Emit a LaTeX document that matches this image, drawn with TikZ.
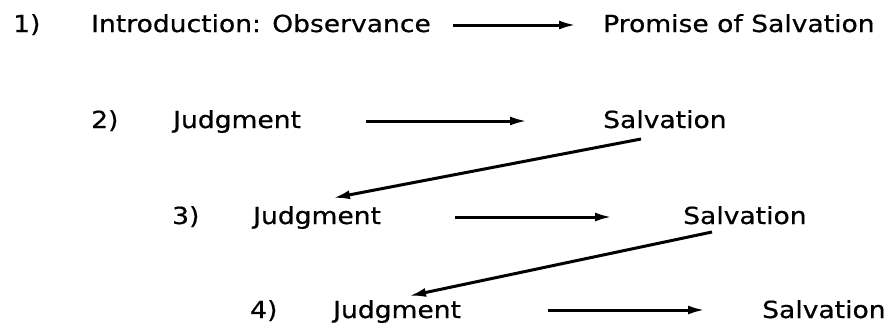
\documentclass[tikz,border=0pt]{standalone}
\usepackage{fontspec}
\setmainfont[FakeStretch=1.13,FakeBold=0.6]{DejaVu Sans}
\usetikzlibrary{arrows.meta,calc}
\tikzset{
  lbl/.style={anchor=base west, inner sep=0pt, font=\fontsize{23.5}{28}\selectfont},
  arr/.style={line width=3pt, -{Latex[length=17pt,width=9pt]}},
}
\begin{document}
\begin{tikzpicture}[x=1pt,y=-1pt]
\useasboundingbox (0,0) rectangle (892,324);
% row 1
\node[lbl] (n1) at (13,32) {1)};
\node[lbl] (intro) at (91,32) {Introduction: Observance};
\node[lbl] (prom) at (603,32) {Promise of Salvation};
% row 2
\node[lbl] (n2) at (91,128) {2)};
\node[lbl] (j2) at (173,128) {Judgment};
\node[lbl] (s2) at (603,128) {Salvation};
% row 3
\node[lbl] (n3) at (172,224) {3)};
\node[lbl] (j3) at (253,224) {Judgment};
\node[lbl] (s3) at (683,224) {Salvation};
% row 4
\node[lbl] (n4) at (250,318) {4)};
\node[lbl] (j4) at (333,318) {Judgment};
\node[lbl] (s4) at (762,318) {Salvation};
% horizontal arrows
\draw[arr] ($(intro.base east)+(22,-7)$) -- ($(prom.base west)+(-27,-7)$);
\draw[arr] ($(j2.base east)+(65,-7)$) -- ($(s2.base west)+(-76,-7)$);
\draw[arr] ($(j3.base east)+(74,-7)$) -- ($(s3.base west)+(-71,-7)$);
\draw[arr] ($(j4.base east)+(87,-8)$) -- ($(s4.base west)+(-57,-8)$);
% diagonal arrows
\draw[arr] ($(s2.base west)+(38,11)$) -- ($(j3.base west)+(80,-26)$);
\draw[arr] ($(s3.base west)+(29,8)$) -- ($(j4.base west)+(76,-22)$);
\end{tikzpicture}
\end{document}
